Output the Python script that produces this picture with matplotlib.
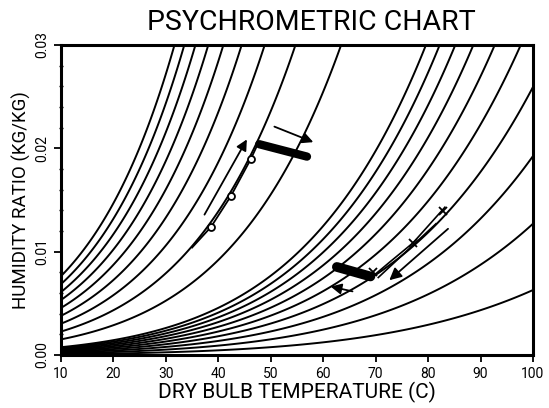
import numpy as np
import matplotlib
matplotlib.use("Agg")
import matplotlib.pyplot as plt

# relative humidity levels drawn as curves (fraction)
rh_levels = [0.01, 0.02, 0.03, 0.04, 0.05, 0.06, 0.07, 0.08, 0.09, 0.10,
             0.20, 0.30, 0.40, 0.50, 0.60, 0.70, 0.80, 0.90, 1.00]
p_atm = 101.325  # kPa

# process 1 (circles) and its arrows
proc1_T = [35.0, 38.6, 42.4, 46.2, 47.6]
proc1_w = [0.0104, 0.01239, 0.01539, 0.01897, 0.0205]
proc1_mark_T = [38.6, 42.4, 46.2]
proc1_mark_w = [0.01239, 0.01539, 0.01897]
arrow1_T = [37.1, 45.7]
arrow1_w = [0.01335, 0.0211]
bar1_T = [47.8, 56.9]
bar1_w = [0.0204, 0.0192]
arrow2_T = [50.2, 58.6]
arrow2_w = [0.0222, 0.0205]

# process 2 (crosses) and its arrows
proc2_T = [69.3, 72.7, 77.1, 83.2]
proc2_w = [0.00755, 0.0090, 0.01084, 0.0143]
proc2b_T = [70.5, 81.5]
proc2b_w = [0.0075, 0.0127]
proc2_mark_T = [69.5, 77.1, 82.8]
proc2_mark_w = [0.00803, 0.01084, 0.01394]
bar2_T = [62.6, 69.0]
bar2_w = [0.00852, 0.00760]
arrow3_T = [66.1, 60.9]
arrow3_w = [0.0061, 0.00668]
arrow4_T = [84.2, 72.2]
arrow4_w = [0.01239, 0.00706]


def p_sat(t_c):
    # saturation pressure over water, kPa
    t = t_c + 273.15
    ln_p = (-5.8002206e3 / t + 1.3914993 - 4.8640239e-2 * t + 4.1764768e-5 * t ** 2
            - 1.4452093e-8 * t ** 3 + 6.5459673 * np.log(t))
    return np.exp(ln_p) / 1000.0


plt.rcParams['font.family'] = ['Roboto', 'DejaVu Sans']

fig = plt.figure(figsize=(5.49, 4.08), dpi=100)
ax = fig.add_axes([61 / 549, 1 - 355 / 408, 472 / 549, 310 / 408])

T, W = np.meshgrid(np.linspace(10, 100, 500), np.linspace(0, 0.03, 500))
pv = W * p_atm / (0.622 + W)
rh = pv / p_sat(T)
ax.contour(T, W, rh, levels=rh_levels, colors='black', linewidths=1.4)

# process 1
ax.plot(proc1_T, proc1_w, color='black', lw=1.3)
ax.plot(proc1_mark_T, proc1_mark_w, 'o', mfc='white', mec='black', ms=5, mew=1.3)
ax.annotate('', xy=(arrow1_T[1], arrow1_w[1]), xytext=(arrow1_T[0], arrow1_w[0]),
            arrowprops=dict(arrowstyle='-|>', color='black', lw=1.3, mutation_scale=16))
ax.plot(bar1_T, bar1_w, color='black', lw=6, solid_capstyle='round')
ax.annotate('', xy=(arrow2_T[1], arrow2_w[1]), xytext=(arrow2_T[0], arrow2_w[0]),
            arrowprops=dict(arrowstyle='-|>', color='black', lw=1.3, mutation_scale=16))

# process 2
ax.plot(proc2_T, proc2_w, color='black', lw=1.2)
ax.plot(proc2b_T, proc2b_w, color='black', lw=1.2)
ax.plot(proc2_mark_T, proc2_mark_w, 'x', color='black', ms=6, mew=1.3)
ax.plot(bar2_T, bar2_w, color='black', lw=7, solid_capstyle='round')
ax.annotate('', xy=(arrow3_T[1], arrow3_w[1]), xytext=(arrow3_T[0], arrow3_w[0]),
            arrowprops=dict(arrowstyle='-|>', color='black', lw=1.3, mutation_scale=16))
ax.annotate('', xy=(arrow4_T[1], arrow4_w[1]), xytext=(arrow4_T[0], arrow4_w[0]),
            arrowprops=dict(arrowstyle='-|>', color='black', lw=1.3, mutation_scale=18))

ax.set_xlim(10, 100)
ax.set_ylim(0, 0.03)
ax.set_xticks(np.arange(10, 101, 10))
ax.set_yticks([0, 0.01, 0.02, 0.03])
ax.set_yticklabels(['0.00', '0.01', '0.02', '0.03'], rotation=90, va='center')
ax.set_yticks(np.arange(0, 0.0301, 0.002), minor=True)
ax.tick_params(axis='both', which='major', labelsize=10, length=5, width=1.3, direction='out')
ax.tick_params(axis='y', which='minor', length=3, width=1, direction='inout')
for s in ax.spines.values():
    s.set_linewidth(2.2)

ax.set_xlabel('DRY BULB TEMPERATURE (C)', fontsize=15, labelpad=1)
ax.set_ylabel('HUMIDITY RATIO (KG/KG)', fontsize=13.5, labelpad=3)
fig.text(311 / 549, 1 - 22 / 408, 'PSYCHROMETRIC CHART', fontsize=20.5,
         ha='center', va='center')

fig.savefig('out.png', dpi=100)
